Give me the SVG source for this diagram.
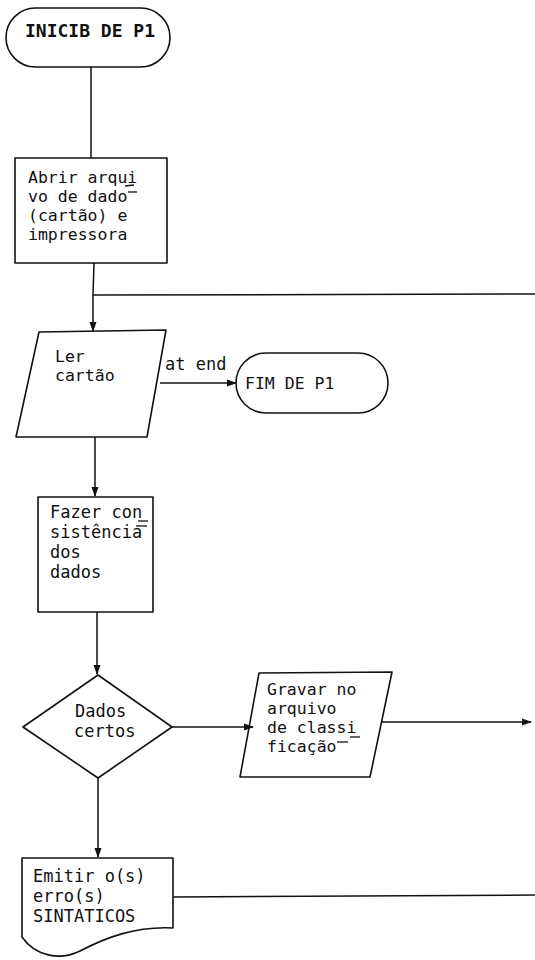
<svg xmlns="http://www.w3.org/2000/svg" width="535" height="960" viewBox="0 0 535 960">
<style>
.shape{fill:none;stroke:#111;stroke-width:1.6;stroke-linejoin:round}
.conn{fill:none;stroke:#111;stroke-width:1.5}
.mark{fill:none;stroke:#111;stroke-width:1.3}
text{font-family:"DejaVu Sans Mono","Liberation Mono",monospace;font-size:17px;fill:#111}
.big{font-size:18px;font-weight:bold}
.s16{font-size:16.5px}
</style>
<defs>
<marker id="arr" markerWidth="10" markerHeight="8" refX="9" refY="4" orient="auto" markerUnits="userSpaceOnUse">
<path d="M0,0.5 L10,4 L0,7.5 Z" fill="#111"/>
</marker>
</defs>
<rect width="535" height="960" fill="#fff"/>
<g id="connectors">
<line class="conn" x1="91" y1="67" x2="91" y2="158"/>
<polyline class="conn" points="94,263 93,295 535,294"/>
<line class="conn" x1="93" y1="295" x2="93" y2="331" marker-end="url(#arr)"/>
<line class="conn" x1="95" y1="437" x2="95" y2="496" marker-end="url(#arr)"/>
<line class="conn" x1="97" y1="612" x2="97" y2="674" marker-end="url(#arr)"/>
<line class="conn" x1="160" y1="383" x2="236" y2="383" marker-end="url(#arr)"/>
<line class="conn" x1="172" y1="727" x2="253" y2="727" marker-end="url(#arr)"/>
<line class="conn" x1="382" y1="722" x2="531" y2="722" marker-end="url(#arr)"/>
<line class="conn" x1="98" y1="778" x2="98" y2="857" marker-end="url(#arr)"/>
<line class="conn" x1="173" y1="897" x2="535" y2="895"/>
<text x="165" y="370">at end</text>
</g>
<g id="inicio">
<rect class="shape" x="6" y="8" width="164" height="59" rx="29.5"/>
<text class="big" x="25" y="37">INICIB DE P1</text>
</g>
<g id="abrir">
<rect class="shape" x="15" y="158" width="152" height="105"/>
<text class="s16" x="28" y="183">Abrir arqui</text>
<text class="s16" x="28" y="202">vo de dado</text>
<text class="s16" x="28" y="221">(cartão) e</text>
<text class="s16" x="28" y="240">impressora</text>
<line class="mark" x1="125" y1="186" x2="134" y2="185"/>
<line class="mark" x1="128" y1="192" x2="137" y2="192"/>
</g>
<g id="ler">
<polygon class="shape" points="39,332 166,330 147,437 16,437"/>
<text class="s16" x="55" y="362">Ler</text>
<text class="s16" x="55" y="381">cartão</text>
</g>
<g id="fim">
<rect class="shape" x="236" y="353" width="152" height="60" rx="30"/>
<text class="s16" x="245" y="389">FIM DE P1</text>
</g>
<g id="fazer">
<rect class="shape" x="38" y="497" width="115" height="115"/>
<text x="50" y="518">Fazer con</text>
<text x="50" y="538">sistência</text>
<text x="50" y="558">dos</text>
<text x="50" y="578">dados</text>
<line class="mark" x1="138" y1="521" x2="148" y2="521"/>
<line class="mark" x1="136" y1="526" x2="147" y2="526"/>
</g>
<g id="decisao">
<polygon class="shape" points="98,675 172,727 98,778 23,727"/>
<text x="75" y="717">Dados</text>
<text x="74" y="737">certos</text>
</g>
<g id="gravar">
<polygon class="shape" points="259,673 392,672 370,777 240,777"/>
<text class="s16" x="267" y="695">Gravar no</text>
<text class="s16" x="267" y="714">arquivo</text>
<text class="s16" x="267" y="733">de classi</text>
<text class="s16" x="267" y="752">ficação</text>
<line class="mark" x1="350" y1="737" x2="360" y2="737"/>
<line class="mark" x1="337" y1="742" x2="348" y2="742"/>
</g>
<g id="emitir">
<path class="shape" d="M22,858 H173 V928 C135,926 105,938 80,951 C60,961 35,956 22,937 Z"/>
<text x="33" y="882">Emitir o(s)</text>
<text x="33" y="902">erro(s)</text>
<text x="33" y="922">SINTATICOS</text>
</g>
</svg>
